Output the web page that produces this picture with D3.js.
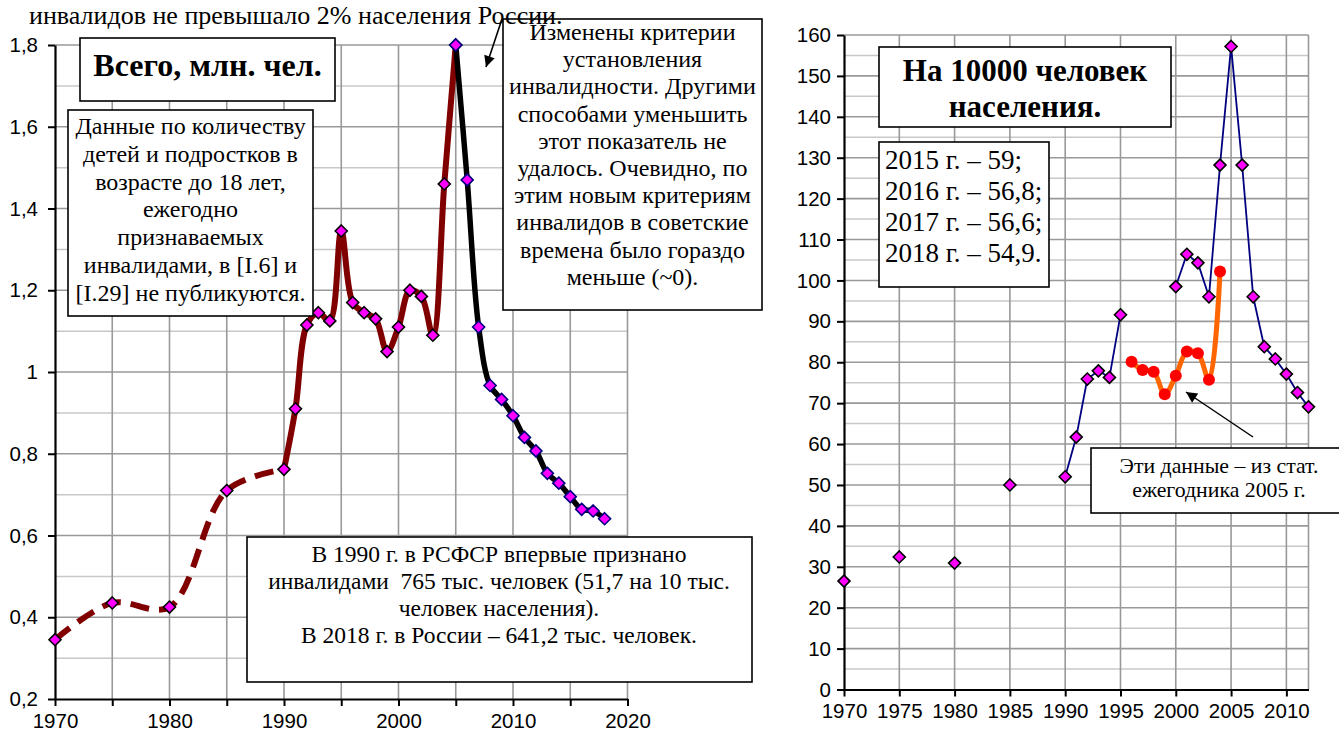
<!DOCTYPE html>
<html><head><meta charset="utf-8">
<script src="https://cdn.jsdelivr.net/npm/d3@7"></script>
<style>
html,body{margin:0;padding:0;background:#fff;}
svg{display:block;}
</style></head>
<body>
<svg id="c" width="1339" height="734"></svg>
<script>
// ---------- DATA ----------
// Left chart: total, million persons
const yearsRed = [1970,1975,1980,1985,1990,1991,1992,1993,1994,1995,1996,1997,1998,1999,2000,2001,2002,2003,2004,2005];
const totalRed = [0.345,0.435,0.425,0.71,0.762,0.91,1.115,1.145,1.125,1.345,1.17,1.145,1.13,1.05,1.11,1.2,1.185,1.09,1.46,1.8];
const yearsBlack = [2005,2006,2007,2008,2009,2010,2011,2012,2013,2014,2015,2016,2017,2018];
const totalBlack = [1.8,1.47,1.11,0.967,0.933,0.893,0.84,0.807,0.752,0.728,0.695,0.664,0.66,0.641];
const leftYTicks = [0.2,0.4,0.6,0.8,1.0,1.2,1.4,1.6,1.8];
const leftXTicks = [1970,1975,1980,1985,1990,1995,2000,2005,2010,2015,2020];

// Right chart: per 10000 population
const yearsEarly = [1970,1975,1980,1985];
const rateEarly = [26.5,32.4,30.9,50.0];
const yearsBlueA = [1990,1991,1992,1993,1994,1995];
const rateBlueA = [52.0,61.7,75.9,77.9,76.3,91.6];
const yearsBlueB = [2000,2001,2002,2003,2004,2005,2006,2007,2008,2009,2010,2011,2012];
const rateBlueB = [98.5,106.4,104.3,96.0,128.2,157.2,128.2,96.0,83.8,80.8,77.1,72.6,69.1];
const yearsOrange = [1996,1997,1998,1999,2000,2001,2002,2003,2004];
const rateOrange = [80.1,78.1,77.7,72.2,76.7,82.6,82.2,75.7,102.2];
const rightYTicks = [0,10,20,30,40,50,60,70,80,90,100,110,120,130,140,150,160];
const rightXTicks = [1970,1975,1980,1985,1990,1995,2000,2005,2010];

const topText = "инвалидов не превышало 2% населения России.";
const leftTitle = ["Всего, млн. чел."];
const leftNote = ["Данные по количеству","детей и подростков в","возрасте до 18 лет,","ежегодно","признаваемых","инвалидами, в [I.6] и","[I.29] не публикуются."];
const leftCriteria = ["Изменены критерии","установления","инвалидности. Другими","способами уменьшить","этот показатель не","удалось. Очевидно, по","этим новым критериям","инвалидов в советские","времена было гораздо","меньше (~0)."];
const leftBottom = ["В 1990 г. в РСФСР впервые признано","инвалидами  765 тыс. человек (51,7 на 10 тыс.","человек населения).","В 2018 г. в России – 641,2 тыс. человек."];
const rightTitle = ["На 10000 человек","населения."];
const rightValues = ["2015 г. – 59;","2016 г. – 56,8;","2017 г. – 56,6;","2018 г. – 54,9."];
const rightSource = ["Эти данные – из стат.","ежегодника 2005 г."];

// ---------- DRAW ----------
const svg = d3.select("#c");
const SERIF = "'Liberation Serif','Times New Roman',serif";
const SANS = "'Liberation Sans',Arial,sans-serif";

const defs = svg.append("defs");
defs.append("marker").attr("id","arr").attr("viewBox","0 0 10 10").attr("refX",10).attr("refY",5)
  .attr("markerWidth",15).attr("markerHeight",11).attr("markerUnits","userSpaceOnUse").attr("orient","auto")
  .append("path").attr("d","M0,0L10,5L0,10Z").attr("fill","#000");

function diamond(g, pts, stroke){
  g.selectAll(null).data(pts).enter().append("path")
    .attr("d", d=>`M${d[0]},${d[1]-6}L${d[0]+6},${d[1]}L${d[0]},${d[1]+6}L${d[0]-6},${d[1]}Z`)
    .attr("fill","#ff00ff").attr("stroke",stroke).attr("stroke-width",1.6);
}
function box(x,y,w,h){
  svg.append("rect").attr("x",x).attr("y",y).attr("width",w).attr("height",h)
    .attr("fill","#fff").attr("stroke","#000").attr("stroke-width",1.6);
}
function lines(arr, x, y0, dy, size, opts={}){
  const t = svg.append("text").attr("font-family",SERIF).attr("font-size",size)
    .attr("font-weight",opts.bold?"bold":"normal").attr("text-anchor",opts.anchor||"middle")
    .attr("fill","#000").style("white-space","pre");
  arr.forEach((s,i)=>t.append("tspan").attr("x",x).attr("y",y0+i*dy).text(s));
}

// ===== LEFT CHART =====
const xL = d3.scaleLinear().domain([1970,2020]).range([55,627.5]);
const yL = d3.scaleLinear().domain([0.2,1.8]).range([699,45]);
const gL = svg.append("g");
// grid
const minorL = d3.range(0.3,1.8,0.2);
gL.selectAll(null).data(minorL).enter().append("line")
  .attr("x1",xL(1970)).attr("x2",xL(2020)).attr("y1",d=>yL(d)).attr("y2",d=>yL(d))
  .attr("stroke","#c8c8c8").attr("stroke-width",1.5);
gL.selectAll(null).data(leftYTicks.slice(1)).enter().append("line")
  .attr("x1",xL(1970)).attr("x2",xL(2020)).attr("y1",d=>yL(d)).attr("y2",d=>yL(d))
  .attr("stroke","#999").attr("stroke-width",1.6);
gL.selectAll(null).data(leftXTicks.slice(1)).enter().append("line")
  .attr("x1",d=>xL(d)).attr("x2",d=>xL(d)).attr("y1",yL(0.2)).attr("y2",yL(1.8))
  .attr("stroke","#999").attr("stroke-width",1.6);

const fmtComma = d => (Math.abs(d-1)<1e-9 ? "1" : d3.format(".1f")(d).replace(".",","));
const axL = gL.append("g").attr("transform",`translate(${xL(1970)},0)`)
  .call(d3.axisLeft(yL).tickValues(leftYTicks).tickFormat(fmtComma).tickSize(7).tickSizeOuter(0).tickPadding(10));
const axLB = gL.append("g").attr("transform",`translate(0,${yL(0.2)})`)
  .call(d3.axisBottom(xL).tickValues(leftXTicks).tickFormat(d=>d%10===0?d:"").tickSize(7).tickSizeOuter(0).tickPadding(7));
[axL,axLB].forEach(a=>{
  a.select(".domain").attr("stroke","#000").attr("stroke-width",2.2);
  a.selectAll(".tick line").attr("stroke","#000").attr("stroke-width",2);
  a.selectAll(".tick text").attr("font-family",SANS).attr("font-size",20.5).attr("fill","#000");
});

// series
const lineL = d3.line().x(d=>xL(d[0])).y(d=>yL(d[1])).curve(d3.curveCatmullRom.alpha(0.5));
const redPts = yearsRed.map((y,i)=>[y,totalRed[i]]);
const blackPts = yearsBlack.map((y,i)=>[y,totalBlack[i]]);
const iSplit = yearsRed.indexOf(1990);
gL.append("path").attr("d",lineL(redPts.slice(0,iSplit+1))).attr("fill","none")
  .attr("stroke","#800000").attr("stroke-width",6).attr("stroke-dasharray","19,10");
gL.append("path").attr("d",lineL(redPts.slice(iSplit))).attr("fill","none")
  .attr("stroke","#800000").attr("stroke-width",6).attr("stroke-linejoin","round");
gL.append("path").attr("d",lineL(blackPts)).attr("fill","none")
  .attr("stroke","#000").attr("stroke-width",5.5).attr("stroke-linejoin","round");
diamond(gL, redPts.map(d=>[xL(d[0]),yL(d[1])]), "#000");
diamond(gL, blackPts.map(d=>[xL(d[0]),yL(d[1])]), "#000080");

// left text boxes
box(80,38,255,63); lines(leftTitle,207.5,76,0,32,{bold:true});
box(68,110,245,206); lines(leftNote,190.5,134,27.8,24);
box(503,19,259,291); lines(leftCriteria,632.5,40,27.2,24);
box(247,537,505,145); lines(leftBottom,499,562,27,23.5);
svg.append("line").attr("x1",502).attr("y1",19).attr("x2",486).attr("y2",67)
  .attr("stroke","#000").attr("stroke-width",1.6).attr("marker-end","url(#arr)");

// top (partly visible) document text
svg.append("text").attr("x",29).attr("y",24).attr("font-family",SERIF).attr("font-size",26)
  .attr("fill","#000").text(topText);

// ===== RIGHT CHART =====
const xR = d3.scaleLinear().domain([1970,2012]).range([844,1308.5]);
const yR = d3.scaleLinear().domain([0,160]).range([689.5,35]);
const gR = svg.append("g");
gR.selectAll(null).data(d3.range(5,160,10)).enter().append("line")
  .attr("x1",xR(1970)).attr("x2",xR(2012)).attr("y1",d=>yR(d)).attr("y2",d=>yR(d))
  .attr("stroke","#c8c8c8").attr("stroke-width",1.5);
gR.selectAll(null).data(rightYTicks.slice(1)).enter().append("line")
  .attr("x1",xR(1970)).attr("x2",xR(2012)).attr("y1",d=>yR(d)).attr("y2",d=>yR(d))
  .attr("stroke","#999").attr("stroke-width",1.6);
gR.selectAll(null).data(rightXTicks.slice(1).concat([2012])).enter().append("line")
  .attr("x1",d=>xR(d)).attr("x2",d=>xR(d)).attr("y1",yR(0)).attr("y2",yR(160))
  .attr("stroke","#999").attr("stroke-width",1.6);
const axR = gR.append("g").attr("transform",`translate(${xR(1970)},0)`)
  .call(d3.axisLeft(yR).tickValues(rightYTicks).tickSize(7).tickSizeOuter(0).tickPadding(6));
const axRB = gR.append("g").attr("transform",`translate(0,${yR(0)})`)
  .call(d3.axisBottom(xR).tickValues(rightXTicks).tickFormat(d=>d).tickSize(7).tickSizeOuter(0).tickPadding(7));
[axR,axRB].forEach(a=>{
  a.select(".domain").attr("stroke","#000").attr("stroke-width",2.2);
  a.selectAll(".tick line").attr("stroke","#000").attr("stroke-width",2);
  a.selectAll(".tick text").attr("font-family",SANS).attr("font-size",20.5).attr("fill","#000");
});

const lineR = d3.line().x(d=>xR(d[0])).y(d=>yR(d[1]));
const blueA = yearsBlueA.map((y,i)=>[y,rateBlueA[i]]);
const blueB = yearsBlueB.map((y,i)=>[y,rateBlueB[i]]);
const early = yearsEarly.map((y,i)=>[y,rateEarly[i]]);
const orange = yearsOrange.map((y,i)=>[y,rateOrange[i]]);
[blueA,blueB].forEach(s=>gR.append("path").attr("d",lineR(s)).attr("fill","none")
  .attr("stroke","#000080").attr("stroke-width",1.8));
const lineO = d3.line().x(d=>xR(d[0])).y(d=>yR(d[1])).curve(d3.curveCatmullRom.alpha(0.5));
gR.append("path").attr("d",lineO(orange)).attr("fill","none")
  .attr("stroke","#ff6600").attr("stroke-width",5).attr("stroke-linejoin","round");
diamond(gR, early.concat(blueA,blueB).map(d=>[xR(d[0]),yR(d[1])]), "#000");
gR.selectAll(null).data(orange).enter().append("circle")
  .attr("cx",d=>xR(d[0])).attr("cy",d=>yR(d[1])).attr("r",6).attr("fill","#ff0000");

box(879,47,292,80); lines(rightTitle,1025,81,36,31,{bold:true});
box(879,142,170,145); lines(rightValues,885,169,30.9,27,{anchor:"start"});
box(1091,448,254,65); lines(rightSource,1219,473,23.5,21.8);
svg.append("line").attr("x1",1253).attr("y1",437).attr("x2",1186).attr("y2",392)
  .attr("stroke","#000").attr("stroke-width",1.5).attr("marker-end","url(#arr)");
</script>
</body></html>
